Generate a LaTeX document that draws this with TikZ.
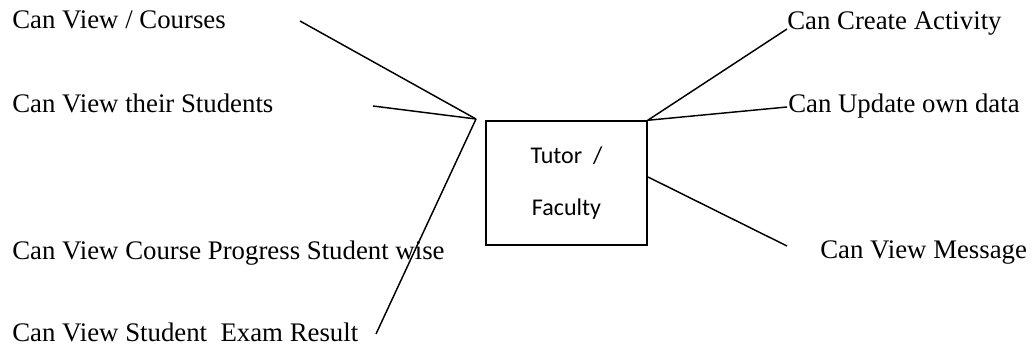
\documentclass[tikz,border=0pt]{standalone}
\usepackage{fontspec}
\setmainfont{Liberation Serif}
\newfontfamily\boxfont{Carlito}
\usepackage{tikz}

\begin{document}
\begin{tikzpicture}[
  x=0.75pt, y=-0.75pt,
  duty/.style={anchor=base west, inner sep=0pt, font=\fontsize{20.1}{24}\selectfont},
  role/.style={draw, line width=1.1pt, minimum width=120.75pt, minimum height=93pt,
               align=center, font=\boxfont\fontsize{18}{39}\selectfont},
  link/.style={line width=1.1pt, black},
]
\useasboundingbox (0,0) rectangle (1036,349);

\node[role] (tutor) at (566.5, 183) {Tutor\ \ /\\Faculty};

\node[duty] (courses) at (12, 29) {Can View / Courses};
\node[duty] (students) at (12, 113) {Can View their Students};
\node[duty] (progress) at (12, 259) {Can View Course Progress Student wise};
\node[duty] (exam) at (12, 341) {Can View Student\ \ Exam Result};
\node[duty] (activity) at (787, 30) {Can Create Activity};
\node[duty] (update) at (788, 113) {Can Update own data};
\node[duty] (message) at (820, 258) {Can View Message};

\coordinate (apex) at (476, 119);
\coordinate (c1) at (300, 21);
\coordinate (c2) at (373, 106);
\coordinate (c3) at (376, 334);
\coordinate (c4) at (787, 246);
\coordinate (c5) at (787, 29);
\coordinate (c6) at (787, 107);
\coordinate (c7) at (648, 177);

\draw[link] (c1) -- (apex);
\draw[link] (c2) -- (apex);
\draw[link] (apex) -- (c3);
\draw[link] (tutor.north east) -- (c5);
\draw[link] (tutor.north east) -- (c6);
\draw[link] (c7) -- (c4);

\end{tikzpicture}
\end{document}
